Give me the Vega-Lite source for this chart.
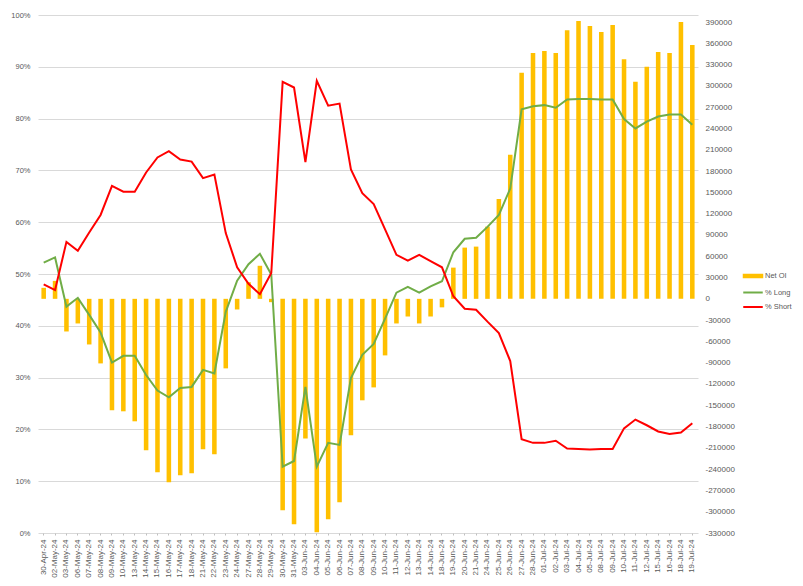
{
  "$schema": "https://vega.github.io/schema/vega-lite/v6.json",
  "width": 660,
  "height": 518,
  "autosize": {"type": "none"},
  "padding": {"left": 38, "top": 15, "right": 105, "bottom": 53},
  "background": "white",
  "config": {
    "view": {"stroke": null},
    "font": "Liberation Sans",
    "locale": {"number": {"decimal": ".", "thousands": ",", "grouping": [3], "currency": ["$", ""], "minus": "-"}},
    "axis": {"labelColor": "#595959", "labelFont": "Liberation Sans", "gridColor": "#d9d9d9", "gridWidth": 1, "domain": false, "ticks": false, "title": null}
  },
  "data": {
    "values": [
      {"date": "30-Apr-24", "netoi": 15500, "long": 52.2, "short": 48.0},
      {"date": "02-May-24", "netoi": 25300, "long": 53.2, "short": 46.9},
      {"date": "03-May-24", "netoi": -46000, "long": 43.7, "short": 56.2},
      {"date": "06-May-24", "netoi": -34700, "long": 45.4, "short": 54.5},
      {"date": "07-May-24", "netoi": -64300, "long": 42.1, "short": 58.0},
      {"date": "08-May-24", "netoi": -91000, "long": 38.7, "short": 61.4},
      {"date": "09-May-24", "netoi": -157000, "long": 32.9, "short": 67.0},
      {"date": "10-May-24", "netoi": -158500, "long": 34.2, "short": 65.9},
      {"date": "13-May-24", "netoi": -172600, "long": 34.2, "short": 65.9},
      {"date": "14-May-24", "netoi": -213400, "long": 30.5, "short": 69.6},
      {"date": "15-May-24", "netoi": -244400, "long": 27.5, "short": 72.5},
      {"date": "16-May-24", "netoi": -258400, "long": 26.2, "short": 73.7},
      {"date": "17-May-24", "netoi": -248600, "long": 28.0, "short": 72.1},
      {"date": "18-May-24", "netoi": -245800, "long": 28.2, "short": 71.7},
      {"date": "21-May-24", "netoi": -212000, "long": 31.5, "short": 68.5},
      {"date": "22-May-24", "netoi": -219000, "long": 30.8, "short": 69.2},
      {"date": "23-May-24", "netoi": -98000, "long": 42.7, "short": 57.9},
      {"date": "24-May-24", "netoi": -15000, "long": 48.7, "short": 51.3},
      {"date": "27-May-24", "netoi": 23500, "long": 51.9, "short": 48.1},
      {"date": "28-May-24", "netoi": 46600, "long": 53.9, "short": 46.1},
      {"date": "29-May-24", "netoi": -4700, "long": 49.9, "short": 50.2},
      {"date": "30-May-24", "netoi": -297800, "long": 12.8, "short": 87.1},
      {"date": "31-May-24", "netoi": -317500, "long": 13.9, "short": 86.0},
      {"date": "03-Jun-24", "netoi": -196800, "long": 28.2, "short": 71.6},
      {"date": "04-Jun-24", "netoi": -328800, "long": 12.8, "short": 87.3},
      {"date": "05-Jun-24", "netoi": -310500, "long": 17.4, "short": 82.5},
      {"date": "06-Jun-24", "netoi": -286600, "long": 17.0, "short": 82.9},
      {"date": "07-Jun-24", "netoi": -192300, "long": 29.9, "short": 70.2},
      {"date": "08-Jun-24", "netoi": -143000, "long": 34.4, "short": 65.6},
      {"date": "09-Jun-24", "netoi": -124800, "long": 36.5, "short": 63.5},
      {"date": "10-Jun-24", "netoi": -79700, "long": 41.4, "short": 58.6},
      {"date": "11-Jun-24", "netoi": -34700, "long": 46.4, "short": 53.7},
      {"date": "12-Jun-24", "netoi": -24900, "long": 47.5, "short": 52.6},
      {"date": "13-Jun-24", "netoi": -34700, "long": 46.4, "short": 53.7},
      {"date": "14-Jun-24", "netoi": -24900, "long": 47.6, "short": 52.5},
      {"date": "18-Jun-24", "netoi": -12000, "long": 48.6, "short": 51.3},
      {"date": "19-Jun-24", "netoi": 44000, "long": 54.2, "short": 45.7},
      {"date": "20-Jun-24", "netoi": 72200, "long": 56.8, "short": 43.3},
      {"date": "21-Jun-24", "netoi": 73600, "long": 57.0, "short": 43.1},
      {"date": "24-Jun-24", "netoi": 101800, "long": 59.1, "short": 40.8},
      {"date": "25-Jun-24", "netoi": 140700, "long": 61.4, "short": 38.6},
      {"date": "26-Jun-24", "netoi": 203100, "long": 66.5, "short": 33.2},
      {"date": "27-Jun-24", "netoi": 318500, "long": 81.8, "short": 18.1},
      {"date": "28-Jun-24", "netoi": 346600, "long": 82.4, "short": 17.4},
      {"date": "01-Jul-24", "netoi": 349400, "long": 82.6, "short": 17.4},
      {"date": "02-Jul-24", "netoi": 346600, "long": 82.1, "short": 17.8},
      {"date": "03-Jul-24", "netoi": 378500, "long": 83.7, "short": 16.3},
      {"date": "04-Jul-24", "netoi": 391600, "long": 83.8, "short": 16.2},
      {"date": "05-Jul-24", "netoi": 384600, "long": 83.8, "short": 16.1},
      {"date": "08-Jul-24", "netoi": 376100, "long": 83.7, "short": 16.2},
      {"date": "09-Jul-24", "netoi": 386000, "long": 83.7, "short": 16.2},
      {"date": "10-Jul-24", "netoi": 337700, "long": 79.9, "short": 20.2},
      {"date": "11-Jul-24", "netoi": 305800, "long": 78.1, "short": 21.9},
      {"date": "12-Jul-24", "netoi": 326900, "long": 79.4, "short": 20.8},
      {"date": "15-Jul-24", "netoi": 348000, "long": 80.4, "short": 19.6},
      {"date": "16-Jul-24", "netoi": 346600, "long": 80.8, "short": 19.1},
      {"date": "18-Jul-24", "netoi": 390200, "long": 80.8, "short": 19.4},
      {"date": "19-Jul-24", "netoi": 357800, "long": 78.8, "short": 21.2}
    ]
  },
  "encoding": {
    "x": {
      "field": "date",
      "type": "nominal",
      "sort": null,
      "scale": {"type": "band", "paddingInner": 0.6, "paddingOuter": 0.3},
      "axis": {"labelAngle": -90, "labelFontSize": 8, "labelPadding": 4, "ticks": true, "tickSize": 2, "tickColor": "#bfbfbf", "grid": false, "domain": false, "labelOverlap": false}
    }
  },
  "layer": [
    {
      "mark": {"type": "bar"},
      "encoding": {
        "y": {
          "field": "netoi",
          "type": "quantitative",
          "scale": {"domain": [-330000, 400000], "nice": false, "zero": false},
          "axis": {
            "orient": "right",
            "values": [-330000, -300000, -270000, -240000, -210000, -180000, -150000, -120000, -90000, -60000, -30000, 0, 30000, 60000, 90000, 120000, 150000, 180000, 210000, 240000, 270000, 300000, 330000, 360000, 390000],
            "format": "d",
            "grid": false,
            "labelFontSize": 8,
            "labelPadding": 7
          }
        },
        "color": {
          "datum": "Net OI",
          "type": "nominal",
          "scale": {"domain": ["Net OI", "% Long", "% Short"], "range": ["#FFC000", "#70AD47", "#FF0000"]},
          "legend": {
            "orient": "none",
            "legendX": 709,
            "legendY": 255,
            "title": null,
            "padding": 0,
            "symbolSize": 100,
            "symbolType": "M-1.9,0H1.9",
            "symbolStrokeWidth": 2,
            "labelOffset": 6,
            "rowPadding": 4.5,
            "labelFontSize": 7.5,
            "labelColor": "#595959",
            "labelFont": "Liberation Sans",
            "encode": {
              "symbols": {
                "update": {
                  "shape": {"signal": "datum.label === 'Net OI' ? 'M-1.85,-0.25H1.85V0.25H-1.85Z' : 'M-1.95,0H1.95'"},
                  "fill": {"signal": "datum.label === 'Net OI' ? '#FFC000' : 'transparent'"},
                  "stroke": {"signal": "datum.label === '% Long' ? '#70AD47' : (datum.label === '% Short' ? '#FF0000' : 'transparent')"},
                  "strokeWidth": {"value": 2},
                  "opacity": {"value": 1}
                }
              }
            }
          }
        }
      }
    },
    {
      "layer": [
        {
          "mark": {"type": "line", "strokeWidth": 2},
          "encoding": {
            "y": {
              "field": "long",
              "type": "quantitative",
              "scale": {"domain": [0, 100], "nice": false},
              "axis": {
                "orient": "left",
                "values": [0, 10, 20, 30, 40, 50, 60, 70, 80, 90, 100],
                "labelExpr": "datum.value + '%'",
                "grid": true,
                "labelFontSize": 7.5,
                "labelPadding": 8
              }
            },
            "color": {"datum": "% Long", "type": "nominal"}
          }
        },
        {
          "mark": {"type": "line", "strokeWidth": 2},
          "encoding": {
            "y": {"field": "short", "type": "quantitative"},
            "color": {"datum": "% Short", "type": "nominal"}
          }
        }
      ]
    }
  ],
  "resolve": {"scale": {"y": "independent"}, "axis": {"y": "independent"}}
}
